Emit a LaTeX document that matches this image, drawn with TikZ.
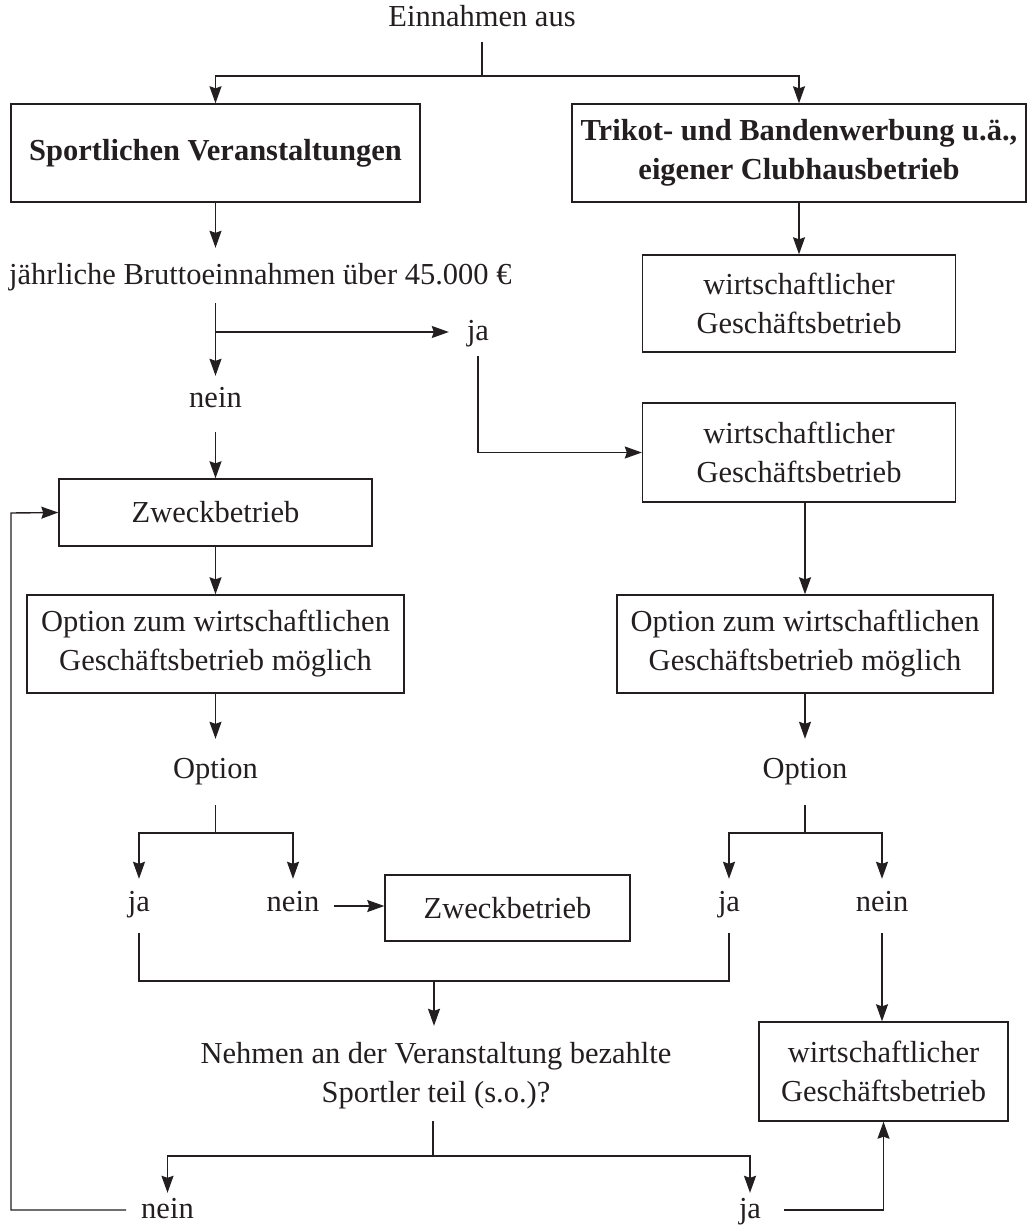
\documentclass[tikz,border=0pt]{standalone}
\usepackage{fontspec}
\setmainfont{Liberation Serif}
\usetikzlibrary{arrows.meta}
\definecolor{ink}{RGB}{35,31,32}
\begin{document}
\begin{tikzpicture}[x=1pt,y=-1pt,
  every node/.style={font=\fontsize{30.5}{39}\selectfont, text=ink},
  line/.style={draw=ink, line width=1.4pt},
  arr/.style={line, -{Stealth[length=17pt,width=12pt,inset=2pt]}},
  box/.style={draw=ink, line width=1.4pt, inner sep=0pt, align=center},
  lab/.style={inner sep=0pt, anchor=base},
]
\fill[white] (0,0) rectangle (1027,1225);
\useasboundingbox (0,0) rectangle (1027,1225);

% boxes
\node[box, minimum width=409pt, minimum height=98pt, font=\fontsize{30.5}{39}\selectfont\bfseries] (b1) at (215.5,153) {Sportlichen Veranstaltungen};
\node[box, minimum width=454pt, minimum height=98pt, font=\fontsize{30.5}{39}\selectfont\bfseries] (b2) at (799,153) {Trikot- und Bandenwerbung u.ä.,\\eigener Clubhausbetrieb};
\node[box, minimum width=313pt, minimum height=97pt] (b3) at (799,303.5) {wirtschaftlicher\\Geschäftsbetrieb};
\node[box, minimum width=313pt, minimum height=99pt] (b4) at (799,452.5) {wirtschaftlicher\\Geschäftsbetrieb};
\node[box, minimum width=313pt, minimum height=67pt] (b5) at (215.5,512.5) {Zweckbetrieb};
\node[box, minimum width=377pt, minimum height=98pt] (b6) at (215.5,644) {Option zum wirtschaftlichen\\Geschäftsbetrieb möglich};
\node[box, minimum width=376pt, minimum height=98pt] (b7) at (805,644) {Option zum wirtschaftlichen\\Geschäftsbetrieb möglich};
\node[box, minimum width=245pt, minimum height=66pt] (b8) at (507.5,908) {Zweckbetrieb};
\node[box, minimum width=249pt, minimum height=99pt] (b9) at (883.5,1071.5) {wirtschaftlicher\\Geschäftsbetrieb};

% labels
\node[lab, text height=21pt, text depth=15pt] (t0) at (482,27) {Einnahmen aus};
\node[lab, anchor=base west, text height=36pt, text depth=19pt] (q1) at (9,284) {jährliche Bruttoeinnahmen über 45.000 €};
\node[lab, inner xsep=18pt, text height=32pt, text depth=16pt] (j1) at (478,340) {ja};
\node[lab, text height=31pt, text depth=25pt] (n1) at (215.5,407) {nein};
\node[lab, text height=39pt, text depth=27pt] (o1) at (215.5,778) {Option};
\node[lab, text height=39pt, text depth=27pt] (o2) at (805,778) {Option};
\node[lab, text height=32pt, text depth=22pt] (ja2) at (139,911) {ja};
\node[lab, inner xsep=15pt, text height=32pt, text depth=22pt] (ne2) at (293,911) {nein};
\node[lab, text height=32pt, text depth=22pt] (ja3) at (729,911) {ja};
\node[lab, text height=32pt, text depth=22pt] (ne3) at (882,911) {nein};
\node[lab, align=center, text height=76pt, text depth=19pt] (qq) at (436,1102) {Nehmen an der Veranstaltung bezahlte\\Sportler teil (s.o.)?};
\node[lab, inner xsep=15pt, text height=25pt, text depth=9pt] (ne4) at (167.5,1218) {nein};
\node[lab, inner xsep=23pt, text height=25pt, text depth=9pt] (ja4) at (750,1218) {ja};

% junctions
\coordinate (s0) at (482,76);
\coordinate (s1) at (215.5,332);
\coordinate (s2) at (215.5,833);
\coordinate (s2r) at (805,833);
\coordinate (s3) at (434,981);
\coordinate (s4) at (433,1156);
\coordinate (fb) at (11,513);

% connectors
\draw[line] (t0.south) -- (s0);
\draw[arr] (s0) -| (b1.north);
\draw[arr] (s0) -| (b2.north);
\draw[arr] (b1.south) -- (b1.south |- q1.north);
\draw[arr] (b2.south) -- (b3.north);
\draw[arr] (n1.north |- q1.south) -- (n1.north);
\draw[arr] (s1) -- (j1.west);
\draw[arr] (j1.south) |- (b4.west);
\draw[arr] (n1.south) -- (b5.north);
\draw[arr] (b5.south) -- (b6.north);
\draw[arr] (b6.south) -- (o1.north);
\draw[arr] (b7.north |- b4.south) -- (b7.north);
\draw[arr] (b7.south) -- (o2.north);
\draw[line] (o1.south) -- (s2);
\draw[arr] (s2) -| (ja2.north);
\draw[arr] (s2) -| (ne2.north);
\draw[line] (o2.south) -- (s2r);
\draw[arr] (s2r) -| (ja3.north);
\draw[arr] (s2r) -| (ne3.north);
\draw[arr] (ne2.east) -- (ne2.east -| b8.west);
\draw[line] (ja2.south) |- (s3) -| (ja3.south);
\draw[arr] (s3) -- (s3 |- qq.north);
\draw[arr] (ne3.south) -- (ne3.south |- b9.north);
\draw[line] (s4 |- qq.south) -- (s4);
\draw[arr] (s4) -| (ne4.north);
\draw[arr] (s4) -| (ja4.north);
\draw[arr] (ja4.east) -| (b9.south);
\draw[arr] (ne4.west) -| (fb) -- (b5.west);
\end{tikzpicture}
\end{document}
